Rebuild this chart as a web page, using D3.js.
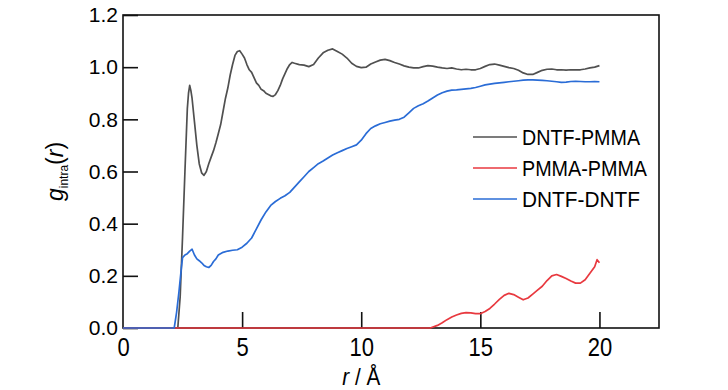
<!DOCTYPE html>
<html>
<head>
<meta charset="utf-8">
<script src="https://cdn.jsdelivr.net/npm/d3@7"></script>
<style>
  body { margin: 0; background: #fff; }
  text { font-family: 'Liberation Sans', Arial, sans-serif; fill: #000; }
</style>
</head>
<body>
<div id="chart"></div>
<script>
// g_intra(r) curves, [r (Å), g]
var dntfPmma = [
    [0, 0], [2.3, 0], [2.4, 0.12], [2.5, 0.35], [2.6, 0.6], [2.7, 0.84], [2.75, 0.9], [2.8, 0.93],
    [2.85, 0.91], [2.9, 0.88], [3.0, 0.79], [3.1, 0.7], [3.2, 0.63], [3.3, 0.595], [3.4, 0.585],
    [3.5, 0.6], [3.6, 0.63], [3.7, 0.655], [3.8, 0.68], [3.9, 0.71], [4.0, 0.745], [4.1, 0.78],
    [4.2, 0.83], [4.3, 0.88], [4.4, 0.92], [4.5, 0.97], [4.6, 1.01], [4.7, 1.045], [4.8, 1.06],
    [4.9, 1.063], [5.0, 1.05], [5.1, 1.035], [5.2, 1.01], [5.3, 0.99], [5.4, 0.98], [5.5, 0.96],
    [5.6, 0.94], [5.7, 0.93], [5.8, 0.915], [5.9, 0.91], [6.0, 0.9], [6.1, 0.895], [6.2, 0.89],
    [6.3, 0.888], [6.4, 0.895], [6.5, 0.91], [6.6, 0.93], [6.7, 0.955], [6.8, 0.975], [6.9, 0.995],
    [7.0, 1.01], [7.1, 1.018], [7.2, 1.015], [7.4, 1.01], [7.6, 1.008], [7.8, 1.002], [8.0, 1.01],
    [8.2, 1.035], [8.4, 1.055], [8.6, 1.065], [8.8, 1.07], [9.0, 1.06], [9.2, 1.05], [9.4, 1.035],
    [9.6, 1.015], [9.8, 1.003], [10.0, 0.998], [10.2, 1.0], [10.4, 1.012], [10.6, 1.02], [10.8, 1.027],
    [11.0, 1.03], [11.2, 1.025], [11.4, 1.018], [11.6, 1.012], [11.8, 1.005], [12.0, 1.0], [12.2, 0.997],
    [12.4, 0.997], [12.6, 1.002], [12.8, 1.006], [13.0, 1.004], [13.2, 1.0], [13.4, 0.997], [13.6, 0.995],
    [13.8, 0.997], [14.0, 0.993], [14.2, 0.99], [14.4, 0.992], [14.6, 0.99], [14.8, 0.99], [15.0, 0.995],
    [15.2, 1.003], [15.4, 1.01], [15.6, 1.012], [15.8, 1.008], [16.0, 1.003], [16.2, 0.998], [16.4, 0.995],
    [16.6, 0.988], [16.8, 0.978], [17.0, 0.972], [17.2, 0.972], [17.4, 0.98], [17.6, 0.988], [17.8, 0.992],
    [18.0, 0.993], [18.2, 0.99], [18.4, 0.99], [18.6, 0.989], [18.8, 0.99], [19.0, 0.99], [19.2, 0.99],
    [19.4, 0.993], [19.6, 0.997], [19.8, 1.0], [20.0, 1.006]
];
var pmmaPmma = [
    [0, 0], [12.9, 0], [13.2, 0.01], [13.4, 0.02], [13.6, 0.032], [13.8, 0.042], [14.0, 0.05],
    [14.2, 0.056], [14.4, 0.059], [14.6, 0.058], [14.8, 0.055], [15.0, 0.055], [15.2, 0.063],
    [15.4, 0.075], [15.6, 0.092], [15.8, 0.11], [16.0, 0.125], [16.2, 0.133], [16.4, 0.128],
    [16.6, 0.118], [16.8, 0.108], [17.0, 0.115], [17.2, 0.13], [17.4, 0.145], [17.6, 0.16],
    [17.8, 0.182], [18.0, 0.2], [18.2, 0.205], [18.4, 0.198], [18.6, 0.19], [18.8, 0.18],
    [19.0, 0.172], [19.2, 0.172], [19.4, 0.185], [19.6, 0.21], [19.8, 0.235], [19.9, 0.262], [20.0, 0.25]
];
var dntfDntf = [
    [0, 0], [2.15, 0], [2.25, 0.06], [2.35, 0.14], [2.45, 0.23], [2.5, 0.27], [2.6, 0.28], [2.7, 0.285],
    [2.8, 0.295], [2.9, 0.302], [3.0, 0.28], [3.1, 0.265], [3.2, 0.258], [3.3, 0.25], [3.4, 0.24],
    [3.5, 0.235], [3.6, 0.232], [3.7, 0.24], [3.8, 0.255], [3.9, 0.265], [4.0, 0.28], [4.2, 0.29],
    [4.4, 0.295], [4.6, 0.298], [4.8, 0.3], [5.0, 0.31], [5.2, 0.325], [5.4, 0.345], [5.6, 0.38],
    [5.8, 0.415], [6.0, 0.445], [6.2, 0.47], [6.4, 0.485], [6.6, 0.497], [6.8, 0.507], [7.0, 0.52],
    [7.2, 0.54], [7.4, 0.56], [7.6, 0.58], [7.8, 0.6], [8.0, 0.615], [8.2, 0.63], [8.4, 0.64],
    [8.6, 0.652], [8.8, 0.663], [9.0, 0.672], [9.2, 0.68], [9.4, 0.688], [9.6, 0.695], [9.8, 0.702],
    [10.0, 0.72], [10.2, 0.745], [10.4, 0.765], [10.6, 0.775], [10.8, 0.783], [11.0, 0.788],
    [11.2, 0.793], [11.4, 0.797], [11.6, 0.8], [11.8, 0.808], [12.0, 0.825], [12.2, 0.842],
    [12.4, 0.852], [12.6, 0.86], [12.8, 0.87], [13.0, 0.882], [13.2, 0.893], [13.4, 0.902],
    [13.6, 0.908], [13.8, 0.912], [14.0, 0.913], [14.2, 0.915], [14.4, 0.917], [14.6, 0.919],
    [14.8, 0.922], [15.0, 0.927], [15.2, 0.932], [15.4, 0.935], [15.6, 0.938], [15.8, 0.94],
    [16.0, 0.942], [16.2, 0.944], [16.4, 0.946], [16.6, 0.948], [16.8, 0.95], [17.0, 0.951],
    [17.2, 0.951], [17.4, 0.95], [17.6, 0.949], [17.8, 0.948], [18.0, 0.946], [18.2, 0.944],
    [18.4, 0.942], [18.6, 0.943], [18.8, 0.945], [19.0, 0.946], [19.2, 0.945], [19.4, 0.944],
    [19.6, 0.944], [19.8, 0.945], [20.0, 0.944]
];
var seriesNames = ['DNTF-PMMA', 'PMMA-PMMA', 'DNTF-DNTF'];
var seriesColors = ['#505050', '#e8393f', '#2a6cd6'];
var xTicks = [0, 5, 10, 15, 20];
var yTicks = [0, 0.2, 0.4, 0.6, 0.8, 1.0, 1.2];

var W = 728, H = 390,
    margin = {top: 15, right: 69, bottom: 62, left: 123},
    w = W - margin.left - margin.right,
    h = H - margin.top - margin.bottom;

var svg = d3.select('#chart').append('svg')
    .attr('width', W)
    .attr('height', H);
var g = svg.append('g')
    .attr('transform', 'translate(' + margin.left + ',' + margin.top + ')');

var x = d3.scaleLinear().domain([0, 22.5]).range([0, w]),
    y = d3.scaleLinear().domain([0, 1.2]).range([h, 0]);

// frame first, so the curves lying on g = 0 show over the bottom edge
g.append('rect')
    .attr('width', w)
    .attr('height', h)
    .attr('fill', 'none')
    .attr('stroke', '#111')
    .attr('stroke-width', 1.6);

var yAxis = g.append('g')
    .call(d3.axisLeft(y).tickValues(yTicks).tickSize(-15).tickPadding(5)
        .tickFormat(d3.format('.1f')));
var xAxis = g.append('g')
    .attr('transform', 'translate(0,' + h + ')')
    .call(d3.axisBottom(x).tickValues(xTicks).tickSize(-16).tickPadding(10)
        .tickFormat(d3.format('d')));

[yAxis, xAxis].forEach(function (a) {
    a.select('.domain').remove();
    a.selectAll('.tick line').attr('stroke', '#111').attr('stroke-width', 1.6);
    a.selectAll('.tick text').attr('font-family', null);
});
yAxis.selectAll('.tick text').attr('font-size', 21);
xAxis.selectAll('.tick text')
    .attr('font-size', 25)
    .attr('transform', 'scale(0.88,1)');
// no tick stub at the r = 0 corner
xAxis.selectAll('.tick line').filter(function (d) { return d === 0; }).remove();

var line = d3.line()
    .x(function (d) { return x(d[0]); })
    .y(function (d) { return y(d[1]); });

// draw order: gray, red, blue on top
[dntfPmma, pmmaPmma, dntfDntf].forEach(function (s, i) {
    g.append('path')
        .datum(s)
        .attr('d', line)
        .attr('fill', 'none')
        .attr('stroke', seriesColors[i])
        .attr('stroke-width', 1.7)
        .attr('stroke-linejoin', 'round');
});

// axis titles
var cx = margin.left + x(10);
var xt = svg.append('text')
    .attr('x', 0)
    .attr('y', 0)
    .attr('text-anchor', 'middle')
    .attr('font-size', 23)
    .attr('transform', 'translate(' + cx + ',385) scale(0.9,1)');
xt.append('tspan').attr('font-style', 'italic').text('r');
xt.append('tspan').text(' / Å');

var yt = svg.append('text')
    .attr('transform', 'translate(63,' + (margin.top + h / 2) + ') rotate(-90)')
    .attr('text-anchor', 'middle')
    .attr('font-size', 23);
yt.append('tspan').attr('font-style', 'italic').text('g');
yt.append('tspan').attr('font-size', 12).attr('dy', 5).text('intra');
yt.append('tspan').attr('dy', -5).text('(');
yt.append('tspan').attr('font-style', 'italic').text('r');
yt.append('tspan').text(')');

// legend
var legend = svg.append('g');
seriesNames.forEach(function (name, i) {
    var ly = 137 + i * 31;
    legend.append('line')
        .attr('x1', 473).attr('x2', 517)
        .attr('y1', ly).attr('y2', ly)
        .attr('stroke', seriesColors[i])
        .attr('stroke-width', 1.6);
    legend.append('text')
        .attr('x', 522)
        .attr('y', ly)
        .attr('dy', '0.36em')
        .attr('font-size', 22)
        .attr('textLength', name === 'PMMA-PMMA' ? 125 : 118)
        .attr('lengthAdjust', 'spacingAndGlyphs')
        .text(name);
});
</script>
</body>
</html>
